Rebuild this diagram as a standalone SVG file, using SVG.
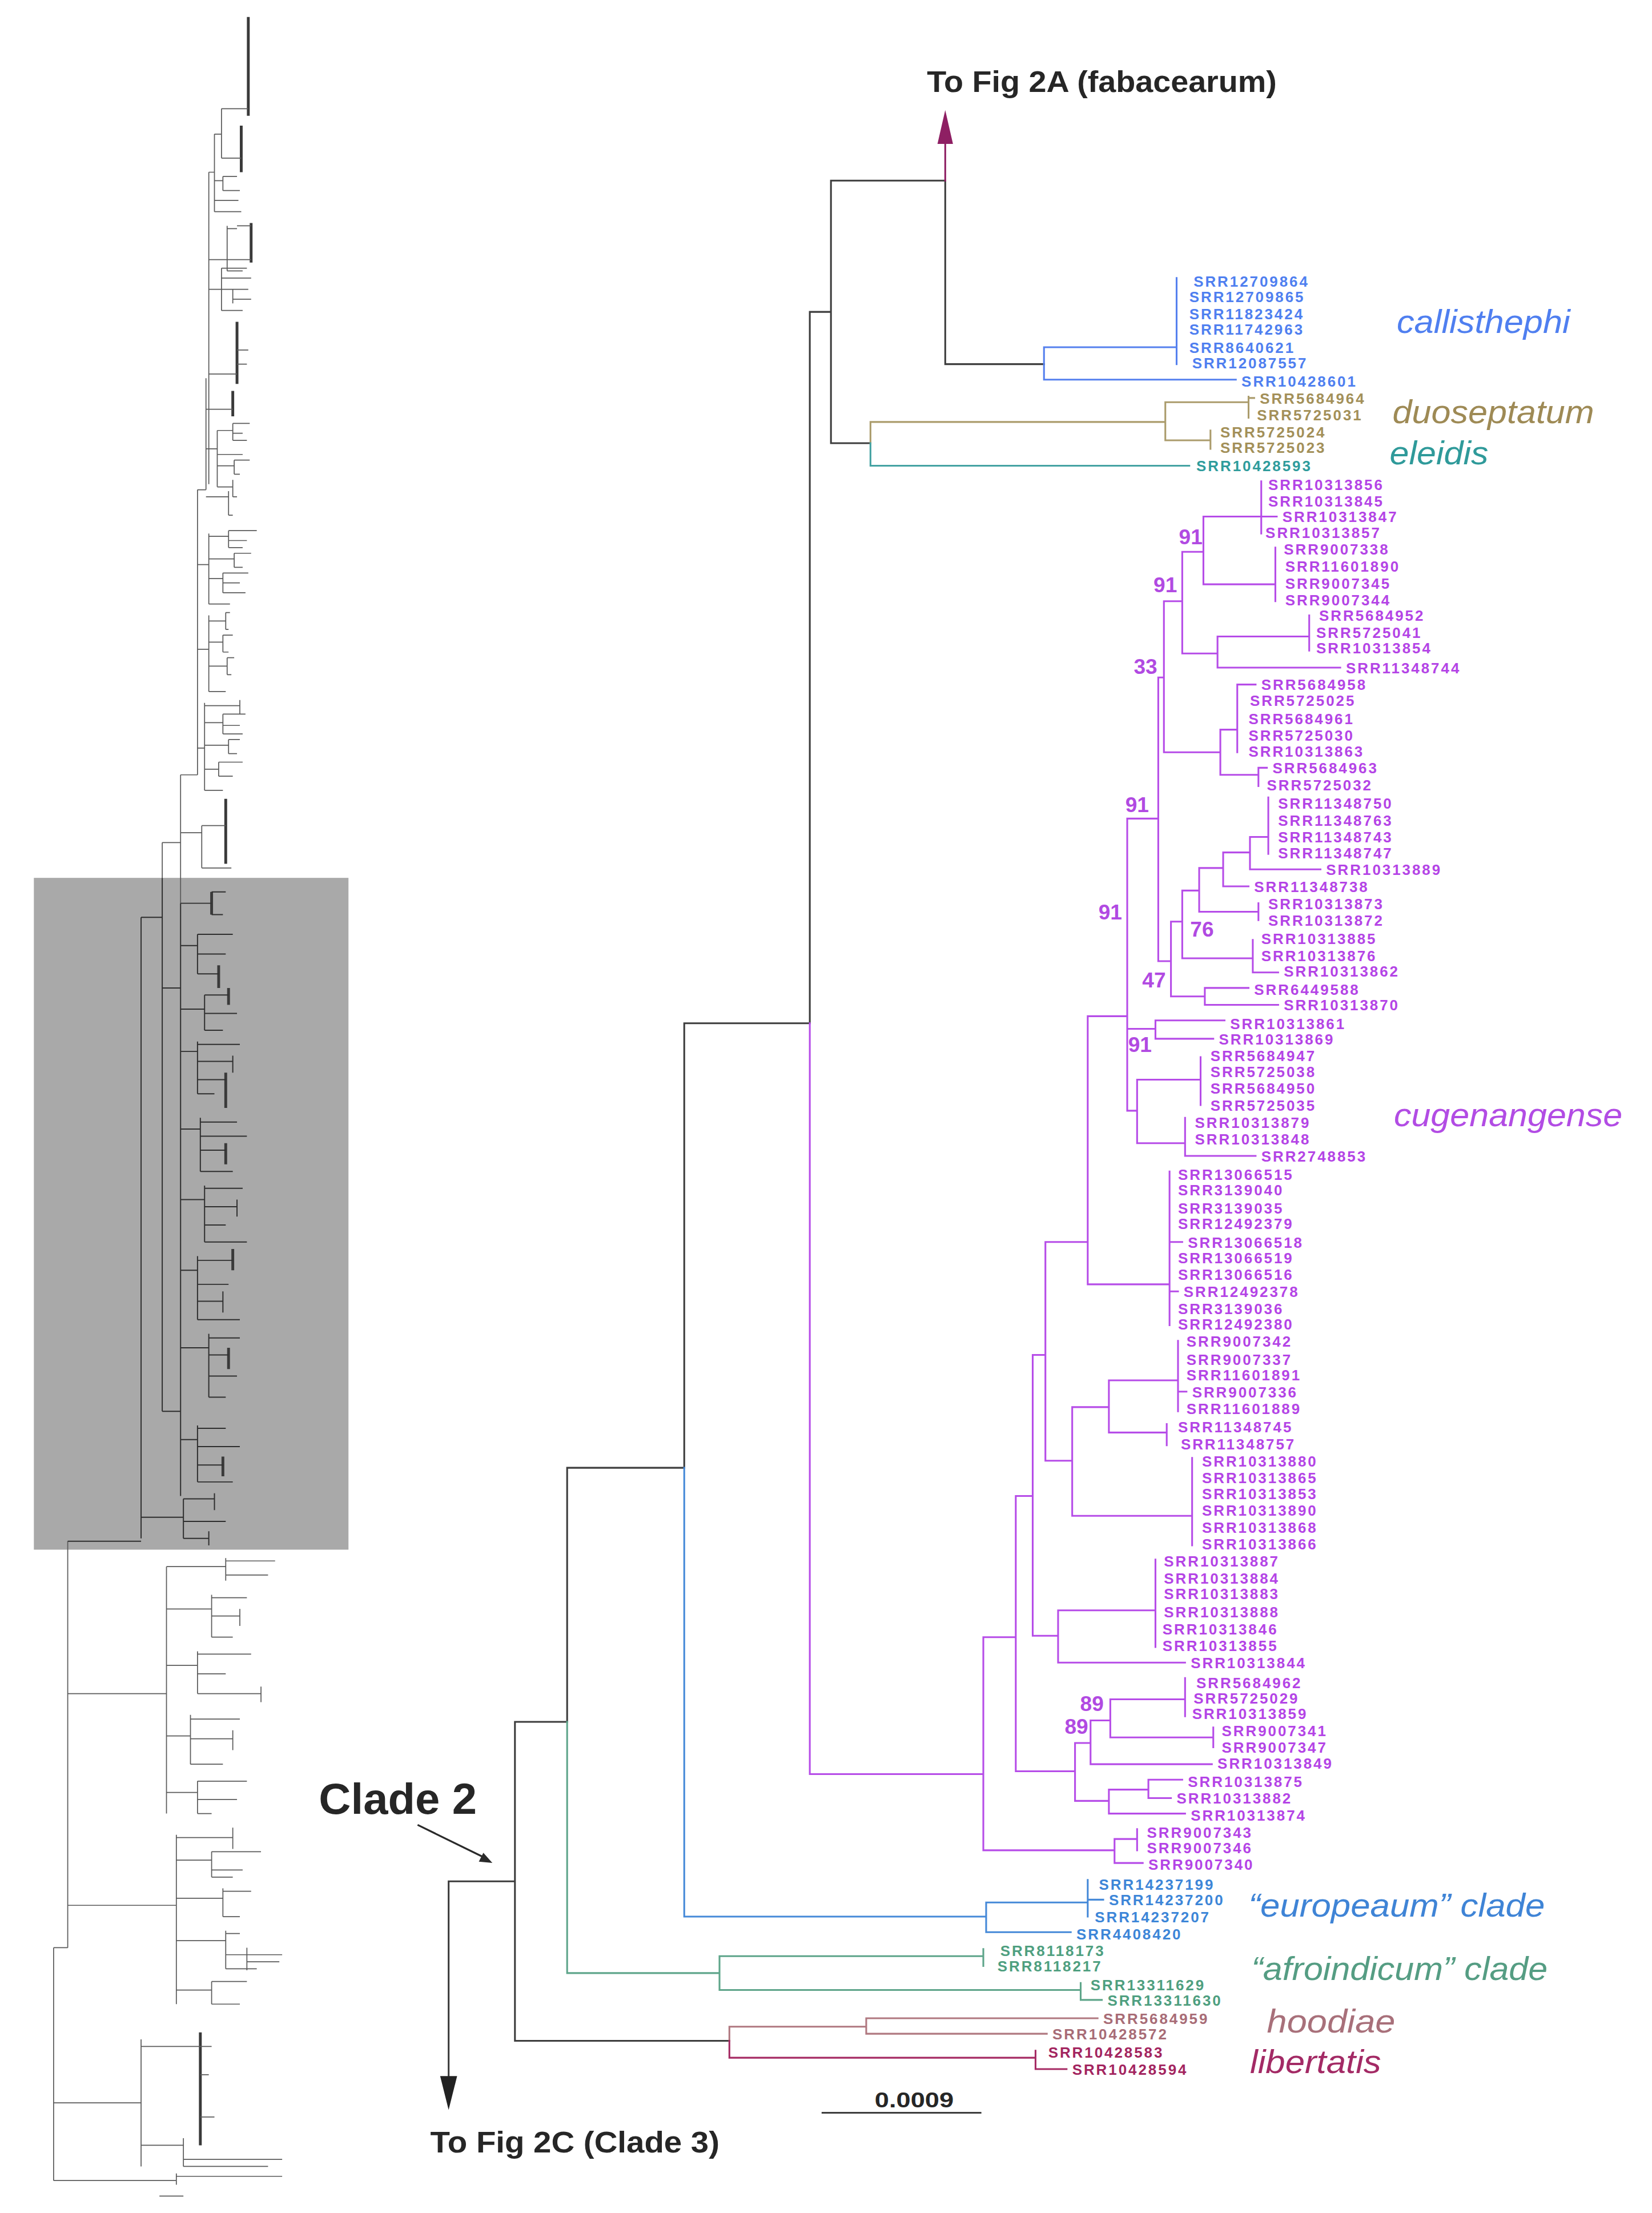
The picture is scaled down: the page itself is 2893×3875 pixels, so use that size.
<svg xmlns="http://www.w3.org/2000/svg" width="2893" height="3875" viewBox="0 0 2893 3875">
<defs>
<style>
.e{fill:none;stroke-width:1.25;stroke-linecap:square}
.k{stroke:#3d3d3d}.cb{stroke:#5580ee}.tn{stroke:#ab9c6c}.tl{stroke:#44a2a2}.pu{stroke:#b64ce8}
.eu{stroke:#4589d8}.gr{stroke:#5ea58a}.ho{stroke:#b07880}.li{stroke:#a52a63}.mg{stroke:#8e1f63}
.ov{fill:none;stroke:#5a5a5a;stroke-width:0.7}.ovd{fill:none;stroke:#2e2e2e;stroke-width:0.8}.ovt{fill:none;stroke:#3a3a3a;stroke-width:2}
text{font-family:'Liberation Sans',Arial,sans-serif}
.l{font-size:10.5px;font-weight:bold;letter-spacing:1.2px}
.sp{font-size:23px;font-style:italic}
.bs{font-size:15px;font-weight:bold;fill:#b14ae2}
.t{font-size:21px;font-weight:bold;fill:#262626}
.fcb{fill:#4f7ff0}.ftn{fill:#a39059}.ftl{fill:#2f9c9c}.fpu{fill:#b444e6}.feu{fill:#3d86d8}.fgr{fill:#4f9f80}.fho{fill:#a86c76}.fli{fill:#a3255f}
</style>
</defs>
<rect width="2893" height="3875" fill="#ffffff"/>
<g transform="scale(2.4706,2.4713)">
<g id="overview">
<rect x="24" y="622" width="223" height="476" fill="#a9a9a9"/>
<path class="ovt" d="M176,12 V82 M171,89 V122 M178,158 V186 M168,228 V272 M165,277 V295 M160,566 V612 M150,632 V648 M155,684 V700 M162,700 V712 M160,760 V785 M160,810 V825 M165,885 V900 M162,955 V970 M158,1032 V1046 M142,1440 V1520"/>
<path class="ov" d="M157,77 H176 M157,77 V112 M157,112 H171 M152,95 H157 M152,95 V150 M152,128 H158 M158,125 V135 M158,125 H168 M158,135 H170 M152,142 H169 M152,150 H171 M148,122 H152 M148,122 V343
M148,184 H161 M161,160 V192 M161,162 H168 M168,160 H178 M161,184 H178 M161,192 H172
M148,205 H157 M157,190 V220 M157,190 H175 M157,197 H178 M157,205 H176 M165,205 V215 M165,212 H178 M157,220 H172
M148,230 V265 M148,265 H168 M168,248 H176 M168,258 H175 M146,268 V347 M146,290 H165
M146,318 H154 M154,305 V345 M154,305 H165 M165,300 V312 M165,300 H177 M165,307 H172 M165,312 H175 M154,322 H172 M154,330 H166 M166,326 V336 M166,326 H177 M166,336 H170 M154,345 H165 M165,340 V352 M165,352 H168 M146,352 H162 M162,348 V365 M162,365 H165
M140,347 H146 M140,347 V549
M140,400 H148 M148,378 V428 M148,380 H162 M162,376 V388 M162,376 H182 M162,383 H175 M162,388 H172 M148,396 H166 M166,392 V402 M166,392 H178 M166,402 H172 M148,410 H158 M158,406 V420 M158,406 H176 M158,413 H170 M158,420 H174 M148,428 H163
M140,460 H148 M148,436 V490 M148,440 H160 M160,434 V446 M160,434 H163 M160,446 H162 M148,455 H158 M158,450 V462 M158,450 H165 M158,462 H162 M148,472 H161 M161,466 V478 M161,466 H166 M161,478 H164 M148,490 H160
M140,530 H145 M145,498 V560 M145,500 H170 M170,496 V506 M145,512 H158 M158,506 V520 M158,506 H174 M158,514 H170 M158,520 H172 M145,528 H162 M162,524 V534 M162,524 H170 M162,534 H168 M145,545 H155 M155,540 V550 M155,540 H172 M155,550 H165 M145,560 H158
M128,549 H140 M128,549 V640 M115,597 H128 M115,597 V622
M128,590 H143 M143,585 V615 M143,585 H160 M143,615 H164
M38,1380 H48 M38,1380 V1545 M48,1092 V1380
M48,1200 H118 M118,1110 V1285 M118,1110 H160 M160,1104 V1120 M160,1106 H195 M160,1116 H190 M118,1140 H150 M150,1130 V1160 M150,1132 H175 M150,1145 H170 M170,1140 V1152 M150,1160 H165 M118,1180 H140 M140,1170 V1200 M140,1172 H178 M140,1186 H160 M140,1200 H185 M185,1195 V1206 M118,1230 H135 M135,1215 V1250 M135,1218 H170 M135,1232 H165 M165,1226 V1240 M135,1250 H158 M118,1270 H140 M140,1262 V1285 M140,1262 H175 M140,1275 H168 M140,1285 H150
M48,1350 H125 M125,1300 V1420 M125,1302 H165 M165,1295 V1310 M125,1318 H150 M150,1312 V1330 M150,1312 H185 M150,1325 H172 M150,1330 H165 M125,1345 H158 M158,1338 V1358 M158,1340 H178 M158,1358 H170 M125,1375 H160 M160,1368 V1395 M160,1370 H170 M160,1385 H200 M175,1380 V1396 M175,1390 H198 M160,1395 H182 M125,1410 H150 M150,1404 V1420 M150,1404 H175 M150,1420 H170
M38,1490 H100 M100,1445 V1535 M100,1450 H142 M142,1450 H150 M142,1470 H148 M142,1500 H152 M100,1520 H130 M130,1515 V1535 M130,1530 H200 M130,1535 H190 M38,1545 H125 M125,1540 V1548 M125,1542 H200 M113,1556 H130"/>
<path class="ovd" d="M48,1092 H100 M100,1090 V650 M100,650 H115 M115,622 V1000 M115,700 H128 M128,640 V1060
M128,640 H150 M150,632 H160 M150,648 H158
M128,670 H140 M140,662 V690 M140,662 H165 M140,676 H160 M140,690 H155
M128,715 H145 M145,705 V730 M145,705 H162 M145,718 H168 M145,730 H158
M128,745 H140 M140,738 V775 M140,740 H170 M140,752 H165 M165,748 V760 M140,765 H160 M140,775 H152
M128,800 H142 M142,792 V830 M142,795 H168 M142,805 H175 M142,815 H160 M142,830 H165
M128,850 H145 M145,840 V880 M145,842 H172 M145,855 H168 M168,850 V862 M145,868 H160 M145,880 H175
M128,900 H140 M140,890 V935 M140,893 H165 M140,910 H162 M140,922 H158 M158,915 V930 M140,935 H170
M128,955 H148 M148,945 V990 M148,948 H170 M148,960 H162 M148,975 H168 M148,990 H160
M115,1000 H128 M128,1020 H140 M140,1010 V1050 M140,1012 H160 M140,1025 H170 M140,1038 H158 M140,1050 H165
M100,1075 H130 M130,1062 V1090 M130,1062 H152 M152,1058 V1070 M130,1078 H160 M130,1090 H148 M148,1085 V1095"/>
</g>
<g id="connectors">
<path class="e k" d="M589,128 H670 V258 H740 M589,128 V314 H617 M574,221 H589 M574,221 V725 M485,725 H574 M485,725 V1040 M402,1040 H485 M402,1040 V1220 M365,1220 H402 M365,1220 V1446 H517 M318,1333 H365 M318,1333 V1476 M583,1497 H695"/>
<path class="e mg" d="M670,128 V100"/>
<polygon points="670,78 664.5,102 675.5,102" fill="#8e1f63"/>
<polygon points="318,1495 312,1471 324,1471" fill="#222222"/>
<path d="M296,1293 L343,1316" stroke="#2a2a2a" stroke-width="1.3" fill="none"/>
<polygon points="349,1320 339.4,1319 342.6,1312.8" fill="#2a2a2a"/>
<path class="e cb" d="M740,246 V269 M740,246 H834 M834,197 V258 M740,269 H876"/>
<path class="e tn" d="M617,314 V299 H826 M826,285 V312 M826,285 H885 M885,281 V296 M885,282 H889 M826,312 H858 M858,305 V318"/>
<path class="e tl" d="M617,314 V330 H843"/>
<path class="e pu" d="M574,725 V1257 H697
M838,391 H853 M853,366 V414 M853,366 H894 M894,341 V378 M894,366 H905 M853,414 H904 M904,388 V426
M838,463 H863 M863,451 V473 M863,451 H928 M928,436 V461 M863,473 H950
M838,391 V463 M825,426 H838 M825,426 V533 M825,533 H865 M865,517 V549 M865,517 H877 M877,485 V533 M877,485 H890 M865,549 H892 M892,544 V557 M892,544 H898
M821,480 H825 M821,480 V681 M799,580 H821
M821,681 H830 M830,653 V706 M830,653 H838 M838,631 V679 M838,631 H850 M850,615 V646 M850,615 H867 M867,604 V628 M867,604 H886 M886,593 V616 M886,593 H899 M899,565 V605 M886,616 H936 M867,628 H885 M850,646 H892 M892,640 V652 M838,679 H888 M888,666 V689 M888,689 H906
M830,706 H854 M854,700 V712 M854,700 H885 M854,712 H906
M799,580 V787 M799,729 H819 M819,723 V736 M819,723 H868 M819,736 H860
M799,787 H806 M806,765 V810 M806,765 H851 M851,749 V783 M806,810 H840 M840,792 V819 M840,819 H890
M771,720 H799 M771,720 V910 M771,910 H829 M829,830 V939 M829,880 H838 M829,915 H835
M741,880 H771 M741,880 V1035 M741,1035 H760 M760,997 V1074 M760,997 H786 M786,978 V1015 M786,978 H835 M835,950 V1000 M835,986 H841 M786,1015 H827 M827,1009 V1024 M760,1074 H845 M845,1033 V1095
M732,960 H741 M732,960 V1159 M732,1159 H750 M750,1141 V1178 M750,1141 H819 M819,1105 V1167 M750,1178 H840
M720,1060 H732 M720,1060 V1255 M720,1255 H762 M762,1235 V1276 M762,1235 H773 M773,1219 V1250 M773,1219 H787 M787,1204 V1231 M787,1204 H840 M840,1189 V1216 M787,1231 H860 M860,1224 V1238 M773,1250 H859 M762,1276 H786 M786,1268 V1285 M786,1268 H814 M814,1261 V1274 M814,1261 H838 M814,1274 H830 M786,1285 H840
M697,1160 H720 M697,1160 V1311 M697,1311 H790 M790,1303 V1320 M790,1303 H806 M806,1296 V1311 M790,1320 H810"/>
<path class="e eu" d="M485,1040 V1358 H699 M699,1348 V1369 M699,1348 H771 M771,1332 V1358 M771,1346 H782 M699,1369 H759"/>
<path class="e gr" d="M402,1220 V1398 H510 M510,1386 V1410 M510,1386 H697 M697,1381 V1393 M510,1410 H766 M766,1405 V1417 M766,1417 H781"/>
<path class="e ho" d="M517,1446 V1436 H614 M614,1430 V1441 M614,1430 H778 M614,1441 H742"/>
<path class="e li" d="M517,1446 V1458 H734 M734,1453 V1466 M734,1466 H756"/>
</g>
<g id="title-top"><text class="t" x="657" y="65" textLength="248" lengthAdjust="spacingAndGlyphs">To Fig 2A (fabacearum)</text></g>
<g id="title-bottom"><text class="t" x="305" y="1525" textLength="205" lengthAdjust="spacingAndGlyphs">To Fig 2C (Clade 3)</text></g>
<g id="clade2"><text x="226" y="1285" font-size="31" font-weight="bold" fill="#262626" textLength="112" lengthAdjust="spacingAndGlyphs">Clade 2</text></g>
<g id="scale"><text x="620" y="1493" font-size="15" font-weight="bold" fill="#262626" textLength="56" lengthAdjust="spacingAndGlyphs">0.0009</text></g>
<g id="species">
<g id="sp-callisthephi"><text class="sp" x="990" y="236" fill="#4f7ff0" textLength="123" lengthAdjust="spacingAndGlyphs">callisthephi</text></g>
<g id="sp-duoseptatum"><text class="sp" x="987" y="300" fill="#9e8a55" textLength="143" lengthAdjust="spacingAndGlyphs">duoseptatum</text></g>
<g id="sp-eleidis"><text class="sp" x="985" y="329" fill="#2f9a9a" textLength="70" lengthAdjust="spacingAndGlyphs">eleidis</text></g>
<g id="sp-cugenangense"><text class="sp" x="988" y="798" fill="#b24ce4" textLength="162" lengthAdjust="spacingAndGlyphs">cugenangense</text></g>
<g id="sp-europeaum"><text class="sp" x="885" y="1358" fill="#3f84d6" textLength="210" lengthAdjust="spacingAndGlyphs">“europeaum” clade</text></g>
<g id="sp-afroindicum"><text class="sp" x="887" y="1403" fill="#559d83" textLength="210" lengthAdjust="spacingAndGlyphs">“afroindicum” clade</text></g>
<g id="sp-hoodiae"><text class="sp" x="898" y="1440" fill="#a8707a" textLength="91" lengthAdjust="spacingAndGlyphs">hoodiae</text></g>
<g id="sp-libertatis"><text class="sp" x="886" y="1469" fill="#a32a65" textLength="93" lengthAdjust="spacingAndGlyphs">libertatis</text></g>
</g>
<g id="bootstrap">
<text class="bs" x="844" y="385.5" text-anchor="middle">91</text>
<text class="bs" x="826" y="419.5" text-anchor="middle">91</text>
<text class="bs" x="812" y="477.5" text-anchor="middle">33</text>
<text class="bs" x="806" y="575.5" text-anchor="middle">91</text>
<text class="bs" x="787" y="651.5" text-anchor="middle">91</text>
<text class="bs" x="852" y="663.5" text-anchor="middle">76</text>
<text class="bs" x="818" y="699.5" text-anchor="middle">47</text>
<text class="bs" x="808" y="745.5" text-anchor="middle">91</text>
<text class="bs" x="774" y="1212.5" text-anchor="middle">89</text>
<text class="bs" x="763" y="1228.5" text-anchor="middle">89</text>
</g>
<g id="leaves">
<g id="n1"><text class="l fcb" x="846" y="203">SRR12709864</text></g>
<g id="n2"><text class="l fcb" x="843" y="214">SRR12709865</text></g>
<g id="n3"><text class="l fcb" x="843" y="226">SRR11823424</text></g>
<g id="n4"><text class="l fcb" x="843" y="237">SRR11742963</text></g>
<g id="n5"><text class="l fcb" x="843" y="250">SRR8640621</text></g>
<g id="n6"><text class="l fcb" x="845" y="261">SRR12087557</text></g>
<g id="n7"><text class="l fcb" x="880" y="274">SRR10428601</text></g>
<g id="n8"><text class="l ftn" x="893" y="286">SRR5684964</text></g>
<g id="n9"><text class="l ftn" x="891" y="298">SRR5725031</text></g>
<g id="n10"><text class="l ftn" x="865" y="310">SRR5725024</text></g>
<g id="n11"><text class="l ftn" x="865" y="321">SRR5725023</text></g>
<g id="n12"><text class="l ftl" x="848" y="334">SRR10428593</text></g>
<g id="n13"><text class="l fpu" x="899" y="347">SRR10313856</text></g>
<g id="n14"><text class="l fpu" x="899" y="359">SRR10313845</text></g>
<g id="n15"><text class="l fpu" x="909" y="370">SRR10313847</text></g>
<g id="n16"><text class="l fpu" x="897" y="381">SRR10313857</text></g>
<g id="n17"><text class="l fpu" x="910" y="393">SRR9007338</text></g>
<g id="n18"><text class="l fpu" x="911" y="405">SRR11601890</text></g>
<g id="n19"><text class="l fpu" x="911" y="417">SRR9007345</text></g>
<g id="n20"><text class="l fpu" x="911" y="429">SRR9007344</text></g>
<g id="n21"><text class="l fpu" x="935" y="440">SRR5684952</text></g>
<g id="n22"><text class="l fpu" x="933" y="452">SRR5725041</text></g>
<g id="n23"><text class="l fpu" x="933" y="463">SRR10313854</text></g>
<g id="n24"><text class="l fpu" x="954" y="477">SRR11348744</text></g>
<g id="n25"><text class="l fpu" x="894" y="489">SRR5684958</text></g>
<g id="n26"><text class="l fpu" x="886" y="500">SRR5725025</text></g>
<g id="n27"><text class="l fpu" x="885" y="513">SRR5684961</text></g>
<g id="n28"><text class="l fpu" x="885" y="525">SRR5725030</text></g>
<g id="n29"><text class="l fpu" x="885" y="536">SRR10313863</text></g>
<g id="n30"><text class="l fpu" x="902" y="548">SRR5684963</text></g>
<g id="n31"><text class="l fpu" x="898" y="560">SRR5725032</text></g>
<g id="n32"><text class="l fpu" x="906" y="573">SRR11348750</text></g>
<g id="n33"><text class="l fpu" x="906" y="585">SRR11348763</text></g>
<g id="n34"><text class="l fpu" x="906" y="597">SRR11348743</text></g>
<g id="n35"><text class="l fpu" x="906" y="608">SRR11348747</text></g>
<g id="n36"><text class="l fpu" x="940" y="620">SRR10313889</text></g>
<g id="n37"><text class="l fpu" x="889" y="632">SRR11348738</text></g>
<g id="n38"><text class="l fpu" x="899" y="644">SRR10313873</text></g>
<g id="n39"><text class="l fpu" x="899" y="656">SRR10313872</text></g>
<g id="n40"><text class="l fpu" x="894" y="669">SRR10313885</text></g>
<g id="n41"><text class="l fpu" x="894" y="681">SRR10313876</text></g>
<g id="n42"><text class="l fpu" x="910" y="692">SRR10313862</text></g>
<g id="n43"><text class="l fpu" x="889" y="705">SRR6449588</text></g>
<g id="n44"><text class="l fpu" x="910" y="716">SRR10313870</text></g>
<g id="n45"><text class="l fpu" x="872" y="729">SRR10313861</text></g>
<g id="n46"><text class="l fpu" x="864" y="740">SRR10313869</text></g>
<g id="n47"><text class="l fpu" x="858" y="752">SRR5684947</text></g>
<g id="n48"><text class="l fpu" x="858" y="763">SRR5725038</text></g>
<g id="n49"><text class="l fpu" x="858" y="775">SRR5684950</text></g>
<g id="n50"><text class="l fpu" x="858" y="787">SRR5725035</text></g>
<g id="n51"><text class="l fpu" x="847" y="799">SRR10313879</text></g>
<g id="n52"><text class="l fpu" x="847" y="811">SRR10313848</text></g>
<g id="n53"><text class="l fpu" x="894" y="823">SRR2748853</text></g>
<g id="n54"><text class="l fpu" x="835" y="836">SRR13066515</text></g>
<g id="n55"><text class="l fpu" x="835" y="847">SRR3139040</text></g>
<g id="n56"><text class="l fpu" x="835" y="860">SRR3139035</text></g>
<g id="n57"><text class="l fpu" x="835" y="871">SRR12492379</text></g>
<g id="n58"><text class="l fpu" x="842" y="884">SRR13066518</text></g>
<g id="n59"><text class="l fpu" x="835" y="895">SRR13066519</text></g>
<g id="n60"><text class="l fpu" x="835" y="907">SRR13066516</text></g>
<g id="n61"><text class="l fpu" x="839" y="919">SRR12492378</text></g>
<g id="n62"><text class="l fpu" x="835" y="931">SRR3139036</text></g>
<g id="n63"><text class="l fpu" x="835" y="942">SRR12492380</text></g>
<g id="n64"><text class="l fpu" x="841" y="954">SRR9007342</text></g>
<g id="n65"><text class="l fpu" x="841" y="967">SRR9007337</text></g>
<g id="n66"><text class="l fpu" x="841" y="978">SRR11601891</text></g>
<g id="n67"><text class="l fpu" x="845" y="990">SRR9007336</text></g>
<g id="n68"><text class="l fpu" x="841" y="1002">SRR11601889</text></g>
<g id="n69"><text class="l fpu" x="835" y="1015">SRR11348745</text></g>
<g id="n70"><text class="l fpu" x="837" y="1027">SRR11348757</text></g>
<g id="n71"><text class="l fpu" x="852" y="1039">SRR10313880</text></g>
<g id="n72"><text class="l fpu" x="852" y="1051">SRR10313865</text></g>
<g id="n73"><text class="l fpu" x="852" y="1062">SRR10313853</text></g>
<g id="n74"><text class="l fpu" x="852" y="1074">SRR10313890</text></g>
<g id="n75"><text class="l fpu" x="852" y="1086">SRR10313868</text></g>
<g id="n76"><text class="l fpu" x="852" y="1098">SRR10313866</text></g>
<g id="n77"><text class="l fpu" x="825" y="1110">SRR10313887</text></g>
<g id="n78"><text class="l fpu" x="825" y="1122">SRR10313884</text></g>
<g id="n79"><text class="l fpu" x="825" y="1133">SRR10313883</text></g>
<g id="n80"><text class="l fpu" x="825" y="1146">SRR10313888</text></g>
<g id="n81"><text class="l fpu" x="824" y="1158">SRR10313846</text></g>
<g id="n82"><text class="l fpu" x="824" y="1170">SRR10313855</text></g>
<g id="n83"><text class="l fpu" x="844" y="1182">SRR10313844</text></g>
<g id="n84"><text class="l fpu" x="848" y="1196">SRR5684962</text></g>
<g id="n85"><text class="l fpu" x="846" y="1207">SRR5725029</text></g>
<g id="n86"><text class="l fpu" x="845" y="1218">SRR10313859</text></g>
<g id="n87"><text class="l fpu" x="866" y="1230">SRR9007341</text></g>
<g id="n88"><text class="l fpu" x="866" y="1242">SRR9007347</text></g>
<g id="n89"><text class="l fpu" x="863" y="1253">SRR10313849</text></g>
<g id="n90"><text class="l fpu" x="842" y="1266">SRR10313875</text></g>
<g id="n91"><text class="l fpu" x="834" y="1278">SRR10313882</text></g>
<g id="n92"><text class="l fpu" x="844" y="1290">SRR10313874</text></g>
<g id="n93"><text class="l fpu" x="813" y="1302">SRR9007343</text></g>
<g id="n94"><text class="l fpu" x="813" y="1313">SRR9007346</text></g>
<g id="n95"><text class="l fpu" x="814" y="1325">SRR9007340</text></g>
<g id="n96"><text class="l feu" x="779" y="1339">SRR14237199</text></g>
<g id="n97"><text class="l feu" x="786" y="1350">SRR14237200</text></g>
<g id="n98"><text class="l feu" x="776" y="1362">SRR14237207</text></g>
<g id="n99"><text class="l feu" x="763" y="1374">SRR4408420</text></g>
<g id="n100"><text class="l fgr" x="709" y="1386">SRR8118173</text></g>
<g id="n101"><text class="l fgr" x="707" y="1397">SRR8118217</text></g>
<g id="n102"><text class="l fgr" x="773" y="1410">SRR13311629</text></g>
<g id="n103"><text class="l fgr" x="785" y="1421">SRR13311630</text></g>
<g id="n104"><text class="l fho" x="782" y="1434">SRR5684959</text></g>
<g id="n105"><text class="l fho" x="746" y="1445">SRR10428572</text></g>
<g id="n106"><text class="l fli" x="743" y="1458">SRR10428583</text></g>
<g id="n107"><text class="l fli" x="760" y="1470">SRR10428594</text></g>
</g>
</g>
</svg>
